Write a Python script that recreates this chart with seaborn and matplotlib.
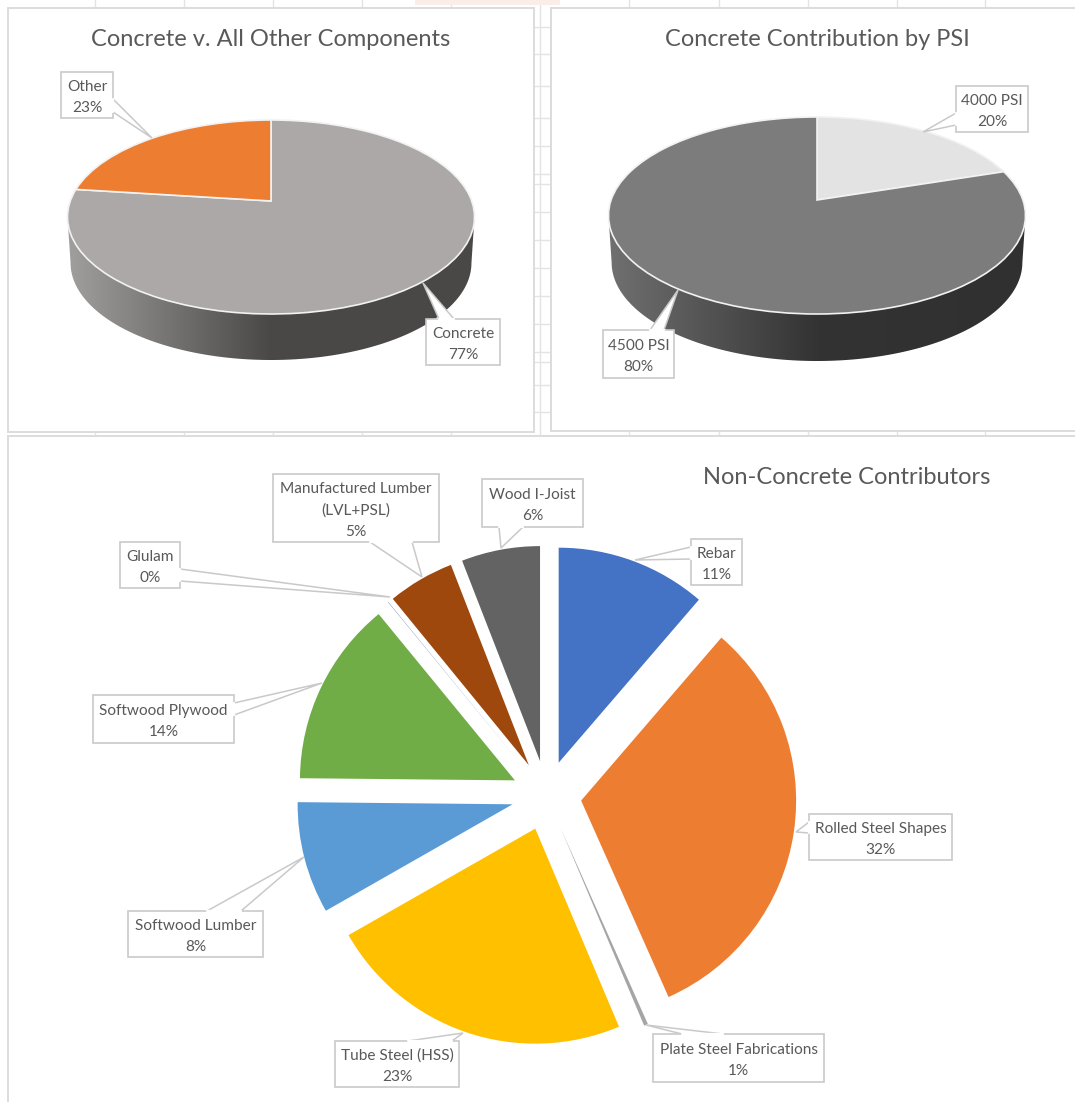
import numpy as np
import matplotlib
matplotlib.use("Agg")
import matplotlib.pyplot as plt
import seaborn as sns
from matplotlib.colors import LinearSegmentedColormap
from matplotlib.patches import PathPatch, Rectangle
from matplotlib.path import Path
from matplotlib.transforms import Transform

# ---- data -----------------------------------------------------------
top_left_title = "Concrete v. All Other Components"
top_left_names = ["Concrete", "Other"]
top_left_values = [77, 23]
top_left_pct = ["77%", "23%"]

top_right_title = "Concrete Contribution by PSI"
top_right_names = ["4000 PSI", "4500 PSI"]
top_right_values = [20, 80]
top_right_pct = ["20%", "80%"]

bottom_title = "Non-Concrete Contributors"
bottom_names = ["Rebar", "Rolled Steel Shapes", "Plate Steel Fabrications",
                "Tube Steel (HSS)", "Softwood Lumber", "Softwood Plywood",
                "Glulam", "Manufactured Lumber\n(LVL+PSL)", "Wood I-Joist"]
bottom_values = [11.3, 32.0, 0.3, 23.1, 8.4, 13.9, 0.02, 5.0, 5.9]
bottom_pct = ["11%", "32%", "1%", "23%", "8%", "14%", "0%", "5%", "6%"]

# ---- style ----------------------------------------------------------
sns.set_theme(style="white")
plt.rcParams["font.family"] = ["Lato", "DejaVu Sans"]
W, H = 1075, 1102
TEXT = "#595959"
BOX = "#c9c9c9"
GRID = "#e3e3e3"
TITLE_SIZE = 17
LABEL_SIZE = 11.1

left_cols = sns.color_palette(["#aca8a7", "#ed7d31"])
right_cols = sns.color_palette(["#e3e3e3", "#7c7c7c"])
bottom_cols = sns.color_palette(["#4472c4", "#ed7d31", "#a5a5a5", "#ffc000", "#5b9bd5",
                                 "#70ad47", "#264478", "#9e480e", "#636363"])

fig = plt.figure(figsize=(W / 100, H / 100), dpi=100, facecolor="white")
ax = fig.add_axes([0, 0, 1, 1])


def py(y):
    return H - y


class Perspective(Transform):
    """Maps the unit pie onto a tilted ellipse whose apex sits off-centre."""
    input_dims = output_dims = 2
    is_affine = False
    has_inverse = False

    def __init__(self, cx, cy, w, up, down):
        super().__init__()
        self.cx, self.cy = cx, py(cy)
        self.k = (down - up) / (down + up)
        self.a = w * np.sqrt(1 - self.k ** 2)
        self.b = up * (1 + self.k)

    def transform_non_affine(self, values):
        v = np.asarray(values, dtype=float)
        d = 1 + self.k * v[:, 1]
        return np.column_stack([self.cx + self.a * v[:, 0] / d,
                                self.cy + self.b * v[:, 1] / d])


def tilted_pie(values, colors, cx, cy, w, up, down, depth, wall_colors):
    # side wall
    ey = cy + (down - up) / 2
    semi = (down + up) / 2
    t = np.linspace(np.pi, 2 * np.pi, 120)
    xs = cx + 0.985 * w * np.cos(t)
    ys = py(ey + depth) + semi * np.sin(t)
    verts = np.vstack([[cx - w, py(ey)], np.column_stack([xs, ys]), [cx + w, py(ey)]])
    clip = PathPatch(Path(np.vstack([verts, verts[:1]])), transform=ax.transData)
    cmap = LinearSegmentedColormap.from_list("wall", wall_colors)
    im = ax.imshow(np.linspace(0, 1, 256)[None, :], cmap=cmap, aspect="auto",
                   extent=(cx - w, cx + w, py(ey + semi + depth), py(ey)), zorder=2)
    im.set_clip_path(clip)
    # top surface
    wedges, _ = ax.pie(values, colors=colors, startangle=90, counterclock=False,
                       radius=1, center=(0, 0),
                       wedgeprops=dict(edgecolor="#f2f2f2", linewidth=1.2))
    persp = Perspective(cx, cy, w, up, down)
    for wd in wedges:
        wd.set_transform(persp + ax.transData)
        wd.set_zorder(3)


def callout(text, box, base, tip):
    x0, y0, x1, y1 = box
    (bx0, by0), (bx1, by1) = base
    tx, ty = tip
    ax.fill([bx0, tx, bx1], [py(by0), py(ty), py(by1)], color="white", lw=0, zorder=4)
    ax.plot([bx0, tx, bx1], [py(by0), py(ty), py(by1)], color=BOX, lw=1.1, zorder=4,
            solid_joinstyle="miter")
    ax.add_patch(Rectangle((x0, py(y1)), x1 - x0, y1 - y0, fc="white", ec=BOX, lw=1.2, zorder=5))
    # leader opening: hide the box edge between the two base points
    ax.plot([bx0, bx1], [py(by0), py(by1)], color="white", lw=1.6, zorder=5.5)
    ax.text((x0 + x1) / 2, py((y0 + y1) / 2 + 2.5), text, ha="center", va="center", color=TEXT,
            fontsize=LABEL_SIZE, linespacing=1.65, zorder=6)


# ---- worksheet behind the charts -------------------------------------
for gx in [95, 184, 273, 362, 451, 540, 629, 719, 808, 897, 985]:
    ax.plot([gx, gx], [py(0), py(437)], color=GRID, lw=1, zorder=0.5)
for gy in [27, 54, 86, 118, 146, 174, 184, 212, 240, 268, 296, 324, 352, 362, 385, 412]:
    ax.plot([534, 551], [py(gy), py(gy)], color=GRID, lw=1, zorder=0.5)
ax.add_patch(Rectangle((415, py(5)), 145, 5, fc="#fbeee8", ec="none", zorder=0.6))

panels = [(8, 8, 534, 432), (551, 8, W + 5, 431), (8, 436, W + 5, H + 5)]
for x0, y0, x1, y1 in panels:
    ax.add_patch(Rectangle((x0, py(y1)), x1 - x0, y1 - y0, fc="white", ec="#dcdcdc", lw=1.4, zorder=1))

# ---- charts ----------------------------------------------------------
tilted_pie(top_left_values, left_cols, 271, 201, 203.5, 81, 113, 46,
           ["#a19e9e", "#4a4747", "#4a4747"])
tilted_pie(top_right_values, right_cols, 817, 200, 208.5, 83, 114, 47,
           ["#707070", "#333333", "#303030"])

# matplotlib's explode offsets are in data units, here pixels
wedges, _ = ax.pie(bottom_values, colors=bottom_cols, startangle=90, counterclock=False,
                   radius=215, center=(546.5, py(795.5)), explode=[35] * len(bottom_values),
                   wedgeprops=dict(linewidth=0))
for wd in wedges:
    wd.set_zorder(3)

ax.text(271, py(39), top_left_title, ha="center", va="center", color=TEXT, fontsize=TITLE_SIZE, zorder=6)
ax.text(817, py(39), top_right_title, ha="center", va="center", color=TEXT, fontsize=TITLE_SIZE, zorder=6)
ax.text(847, py(478), bottom_title, ha="center", va="center", color=TEXT, fontsize=TITLE_SIZE, zorder=6)

# ---- callouts --------------------------------------------------------
left_layout = [
    ((426, 319, 500, 365), ((439, 319), (454, 319)), (423, 283)),
    ((61, 72, 113, 118), ((113, 99), (113, 112)), (152, 138)),
]
for n, p, (b, s, tp) in zip(top_left_names, top_left_pct, left_layout):
    callout(f"{n}\n{p}", b, s, tp)

right_layout = [
    ((956, 86, 1028, 132), ((956, 113), (956, 125)), (923, 132)),
    ((603, 330, 674, 378), ((650, 330), (664, 330)), (678, 290)),
]
for n, p, (b, s, tp) in zip(top_right_names, top_right_pct, right_layout):
    callout(f"{n}\n{p}", b, s, tp)

bottom_layout = [
    ((691, 539, 742, 585), ((691, 547), (691, 559)), (635, 560)),
    ((809, 814, 952, 860), ((809, 822), (809, 833)), (796, 832)),
    ((653, 1034, 824, 1082), ((682, 1034), (723, 1034)), (646, 1025)),
    ((335, 1041, 459, 1087), ((408, 1041), (452, 1041)), (463, 1033)),
    ((128, 911, 263, 957), ((207, 911), (241, 911)), (304, 857)),
    ((93, 695, 234, 743), ((234, 703), (234, 715)), (322, 683)),
    ((120, 542, 180, 588), ((180, 569), (180, 581)), (390, 597)),
    ((273, 474, 439, 542), ((370, 542), (412, 542)), (422, 577)),
    ((482, 479, 583, 527), ((499, 527), (523, 527)), (501, 548)),
]
for n, p, (b, s, tp) in zip(bottom_names, bottom_pct, bottom_layout):
    callout(f"{n}\n{p}", b, s, tp)

ax.set_aspect("auto")
ax.set_xlim(0, W)
ax.set_ylim(0, H)
ax.axis("off")
fig.savefig("out.png", dpi=100, facecolor="white")
